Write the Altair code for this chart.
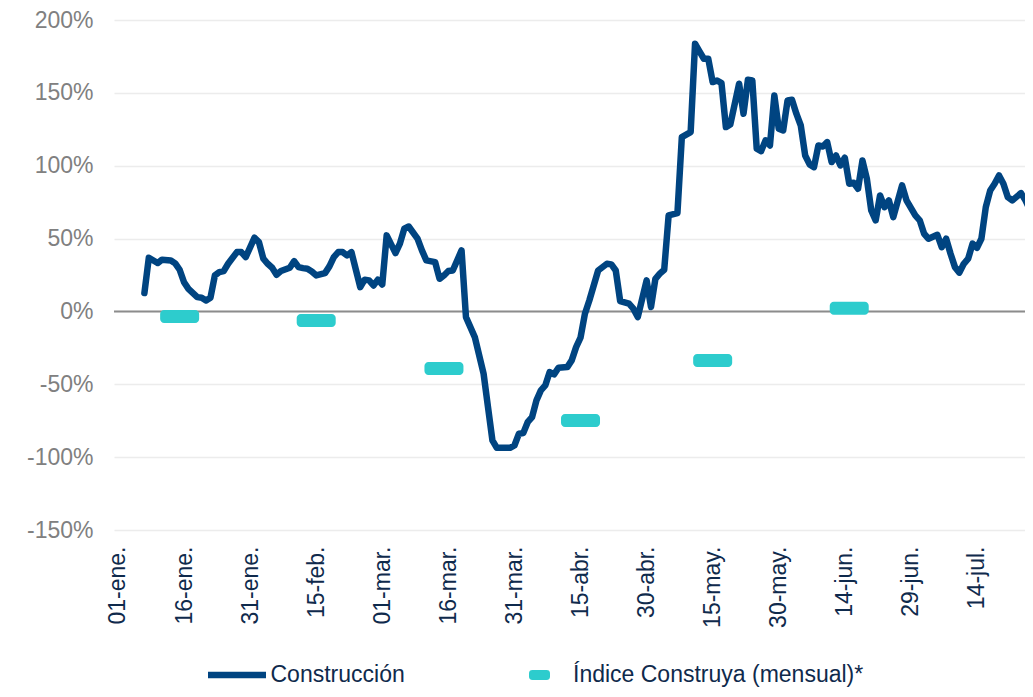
import altair as alt
import pandas as pd

# ---------------- data ----------------
line_dates = [
    "2020-01-07", "2020-01-08", "2020-01-10", "2020-01-11", "2020-01-13", "2020-01-14", "2020-01-15",
    "2020-01-16", "2020-01-17", "2020-01-19", "2020-01-20", "2020-01-21", "2020-01-22", "2020-01-23",
    "2020-01-24", "2020-01-25", "2020-01-26", "2020-01-28", "2020-01-29", "2020-01-30",
    "2020-02-01", "2020-02-02", "2020-02-03", "2020-02-04", "2020-02-05", "2020-02-06", "2020-02-07",
    "2020-02-09", "2020-02-10", "2020-02-11", "2020-02-12", "2020-02-13", "2020-02-14", "2020-02-15",
    "2020-02-17", "2020-02-18", "2020-02-19", "2020-02-20", "2020-02-21", "2020-02-22", "2020-02-23",
    "2020-02-25", "2020-02-26", "2020-02-27", "2020-02-28", "2020-02-29",
    "2020-03-01", "2020-03-02", "2020-03-04", "2020-03-05", "2020-03-06", "2020-03-07", "2020-03-09",
    "2020-03-10", "2020-03-11", "2020-03-13", "2020-03-14", "2020-03-15", "2020-03-16", "2020-03-17",
    "2020-03-19", "2020-03-20", "2020-03-22", "2020-03-24", "2020-03-25", "2020-03-26", "2020-03-27",
    "2020-03-30", "2020-03-31",
    "2020-04-01", "2020-04-02", "2020-04-03", "2020-04-04", "2020-04-05", "2020-04-06", "2020-04-07",
    "2020-04-08", "2020-04-09", "2020-04-10", "2020-04-12", "2020-04-13", "2020-04-14", "2020-04-15",
    "2020-04-16", "2020-04-17", "2020-04-18", "2020-04-19", "2020-04-21", "2020-04-22", "2020-04-23",
    "2020-04-24", "2020-04-26", "2020-04-27", "2020-04-28", "2020-04-30",
    "2020-05-01", "2020-05-02", "2020-05-03", "2020-05-04", "2020-05-05", "2020-05-07", "2020-05-08",
    "2020-05-10", "2020-05-11", "2020-05-12", "2020-05-13", "2020-05-14", "2020-05-15", "2020-05-16",
    "2020-05-17", "2020-05-18", "2020-05-19", "2020-05-21", "2020-05-22", "2020-05-23", "2020-05-24",
    "2020-05-25", "2020-05-26", "2020-05-27", "2020-05-28", "2020-05-29", "2020-05-30", "2020-05-31",
    "2020-06-01", "2020-06-02", "2020-06-03", "2020-06-04", "2020-06-05", "2020-06-06", "2020-06-07",
    "2020-06-08", "2020-06-09", "2020-06-10", "2020-06-11", "2020-06-12", "2020-06-13", "2020-06-14",
    "2020-06-15", "2020-06-16", "2020-06-17", "2020-06-18", "2020-06-19", "2020-06-20", "2020-06-21",
    "2020-06-22", "2020-06-23", "2020-06-24", "2020-06-25", "2020-06-27", "2020-06-28", "2020-06-30",
    "2020-07-01", "2020-07-02", "2020-07-03", "2020-07-05", "2020-07-06", "2020-07-07", "2020-07-08",
    "2020-07-09", "2020-07-10", "2020-07-11", "2020-07-12", "2020-07-13", "2020-07-14", "2020-07-15",
    "2020-07-16", "2020-07-17", "2020-07-18", "2020-07-19", "2020-07-20", "2020-07-21", "2020-07-22",
    "2020-07-24", "2020-07-25", "2020-07-26", "2020-07-27",
]
line_values = [
    12.6, 36.8, 33.2, 35.5, 35.0, 33.0, 28.6,
    20.0, 15.5, 9.8, 9.4, 7.5, 9.4, 24.7,
    27.0, 27.7, 32.7, 40.7, 40.7, 37.3,
    50.6, 47.6, 36.2, 32.7, 30.0, 25.2, 27.7,
    30.0, 34.5, 30.4, 29.7, 29.3, 27.4, 24.7,
    26.3, 30.9, 37.3, 40.7, 40.7, 38.4, 40.7,
    16.7, 21.8, 21.3, 17.8, 21.8,
    18.5, 52.2, 40.0, 46.5, 56.8, 58.3, 49.9,
    41.9, 35.0, 33.8, 22.4, 24.7, 27.7, 28.1,
    41.9, -3.9, -17.6, -42.8, -65.7, -88.5, -93.6,
    -93.6, -92.0,
    -84.0, -83.5, -76.0, -72.5, -61.0, -54.2, -50.8,
    -41.6, -43.2, -38.6, -38.2, -33.6, -24.5, -18.0,
    -1.6, 7.5, 17.8, 28.1, 32.7, 32.3, 28.1,
    7.1, 5.3, 1.9, -3.9, 21.3,
    3.0, 22.4, 25.9, 28.6, 65.9, 67.5, 119.6,
    123.0, 183.7, 178.5, 173.4, 173.4, 157.4, 158.5,
    156.7, 126.5, 128.3, 156.3, 135.7, 159.0, 158.5,
    111.7, 110.0, 117.4, 113.9, 148.2, 125.4, 124.2,
    144.8, 145.3, 135.7, 127.6, 107.0, 100.9, 99.0,
    113.9, 113.2, 116.2, 102.5, 107.0, 100.2, 105.5,
    87.6, 88.3, 84.2, 103.6, 91.1, 69.3, 62.5,
    79.6, 71.6, 76.2, 64.7, 86.5, 76.2, 65.9,
    62.5, 53.3, 49.9, 52.6, 44.1, 49.9, 39.6,
    30.4, 26.6, 32.7, 36.2, 46.5, 43.7, 49.9,
    71.6, 83.0, 87.6, 93.3, 87.6, 78.4, 76.2,
    81.2, 76.2, 69.8, 73.9,
]

month_dates = ["2020-01-15", "2020-02-15", "2020-03-15", "2020-04-15", "2020-05-15", "2020-06-15"]
month_values = [-3.4, -6.2, -39.1, -74.8, -33.6, 2.1]

series_names = ["Construcción", "Índice Construya (mensual)*"]
series_colors = ["#004481", "#2DCCCD"]

tick_dates = [
    "2020-01-01", "2020-01-16", "2020-01-31", "2020-02-15", "2020-03-01", "2020-03-16", "2020-03-31",
    "2020-04-15", "2020-04-30", "2020-05-15", "2020-05-30", "2020-06-14", "2020-06-29", "2020-07-14",
]
month_abbr = ["ene", "feb", "mar", "abr", "may", "jun", "jul", "ago", "sep", "oct", "nov", "dic"]
y_ticks = [-150, -100, -50, 0, 50, 100, 150, 200]

# ---------------- frames ----------------
line_df = pd.DataFrame({"fecha": line_dates, "valor": line_values, "serie": series_names[0]})
month_df = pd.DataFrame({"fecha": month_dates, "valor": month_values, "serie": series_names[1]})
zero_df = pd.DataFrame({"valor": [0]})


def dt(s, hours=0, minutes=0):
    t = pd.Timestamp(s)
    return alt.DateTime(year=t.year, month=t.month, date=t.day, hours=hours, minutes=minutes, utc=True)


tick_values = [dt(s) for s in tick_dates]
abbr_js = "[" + ",".join("'" + m + "'" for m in month_abbr) + "]"
x_label_expr = "utcFormat(datum.value, '%d') + '-' + " + abbr_js + "[utcmonth(datum.value)] + '.'"

FONT = "Liberation Sans"
NAVY_TEXT = "#0f2a4c"

x_scale = alt.Scale(type="utc", domain=[dt("2019-12-31", 2, 24), dt("2020-07-24", 21, 36)])
y_scale = alt.Scale(domain=[-150, 200], nice=False, zero=False)

x_axis = alt.Axis(
    values=tick_values, labelExpr=x_label_expr, labelAngle=270, labelAlign="right",
    labelBaseline="middle", labelPadding=16, ticks=False, domain=False, grid=False,
    labelFont=FONT, labelFontSize=23, labelColor=NAVY_TEXT, labelOverlap=False,
    labelBound=False, labelFlush=False, title=None,
)
y_axis = alt.Axis(
    values=y_ticks, labelExpr="datum.value + '%'", ticks=False, domain=False, grid=True,
    gridColor="#ececec", gridWidth=1.6, labelFont=FONT, labelFontSize=23, labelColor="#808080",
    labelPadding=21, title=None,
)

rect_path = ("M-0.667,-0.476 L0.667,-0.476 Q1,-0.476 1,-0.143 L1,0.143 Q1,0.476 0.667,0.476 "
             "L-0.667,0.476 Q-1,0.476 -1,0.143 L-1,-0.143 Q-1,-0.476 -0.667,-0.476 Z")

LEGEND_CY = 675 - 20  # legend row centre, relative to plot top

line_legend = alt.Legend(
    title=None, orient="none", legendX=90.5, legendY=LEGEND_CY - 32.5, direction="horizontal",
    symbolType="stroke", symbolSize=3364, symbolStrokeWidth=6.5, labelFont=FONT,
    labelFontSize=23, labelColor=NAVY_TEXT, labelOffset=1, padding=0, labelLimit=500,
)
tick_legend = alt.Legend(
    title=None, orient="none", legendX=414, legendY=LEGEND_CY - 11.5, direction="horizontal",
    symbolType=rect_path, symbolSize=441, symbolStrokeWidth=0, labelFont=FONT,
    labelFontSize=23, labelColor=NAVY_TEXT, labelOffset=22, padding=0, labelLimit=500,
)

zero_rule = alt.Chart(zero_df).mark_rule(color="#8c8c8c", strokeWidth=2).encode(
    y=alt.Y("valor:Q", scale=y_scale, axis=y_axis)
)

line = alt.Chart(line_df).mark_line(strokeWidth=6.5, strokeJoin="round", strokeCap="round", clip=True).encode(
    x=alt.X("fecha:T", scale=x_scale, axis=x_axis),
    y=alt.Y("valor:Q", scale=y_scale, axis=y_axis),
    stroke=alt.Stroke("serie:N", scale=alt.Scale(domain=[series_names[0]], range=[series_colors[0]]),
                      legend=line_legend),
)

ticks = alt.Chart(month_df).mark_tick(orient="horizontal", size=39, thickness=13, cornerRadius=4, opacity=1).encode(
    x=alt.X("fecha:T", scale=x_scale, axis=x_axis),
    y=alt.Y("valor:Q", scale=y_scale, axis=y_axis),
    fill=alt.Fill("serie:N", scale=alt.Scale(domain=[series_names[1]], range=[series_colors[1]]),
                  legend=tick_legend),
)

chart = alt.layer(zero_rule, line, ticks).properties(
    width=911, height=510,
    padding={"left": 106, "top": 12, "right": 0, "bottom": 159},
    autosize=alt.AutoSizeParams(type="none"),
).configure_view(strokeWidth=0)

chart.save("out.html", embed_options={"renderer": "svg", "actions": False})
